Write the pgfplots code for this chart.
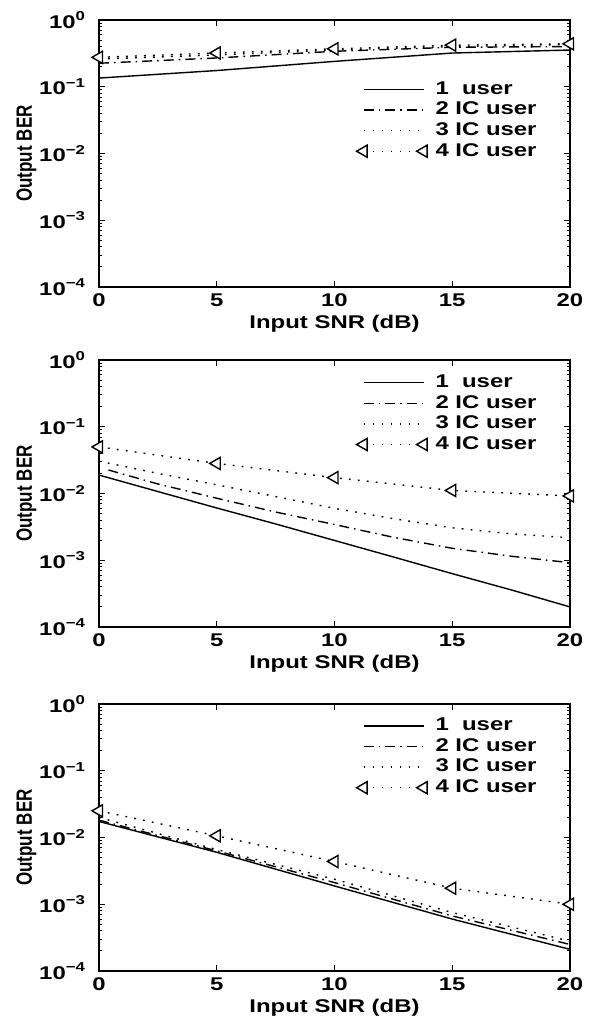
\documentclass[border=0pt]{standalone}
\usepackage{fontspec}
\setmainfont{Liberation Sans}[FakeStretch=1.3]
\newfontfamily\yfont{Liberation Sans}
\usepackage{graphicx}
\usepackage{pgfplots}
\pgfplotsset{compat=1.18}
\newcommand\ff{\fontsize{9.2}{10}\selectfont\bfseries}
\pgfplotsset{
 ber/.style={
  scale only axis, width=235.5pt, height=133.5pt,
  xmin=0, xmax=20, ymin=1e-4, ymax=1,
  xtick={0,5,10,15,20}, xticklabels={0,5,10,15,20},
  ytick={1e-4,1e-3,1e-2,1e-1,1},
  yticklabels={10\textsuperscript{−4},10\textsuperscript{−3},10\textsuperscript{−2},10\textsuperscript{−1},10\textsuperscript{0}},
  xticklabel style={font=\ff},
  yticklabel style={font=\ff, xshift=-3pt},
  xlabel={Input SNR (dB)}, xlabel style={font=\ff, yshift=3pt},
  ylabel={\scalebox{1}[1.3]{\yfont\fontsize{8.5}{10}\selectfont\bfseries Output BER}},
  ylabel style={at={(axis description cs:-0.154,0.5)}, anchor=center},
  axis line style={line width=0.9pt},
  major tick length=3pt, minor tick length=1.6pt,
  every tick/.style={black, line width=0.5pt},
  legend style={draw=none, fill=none, font=\ff, anchor=north east, inner sep=0pt,
    nodes={inner sep=1.2pt}, column sep=3pt, cells={anchor=west}},
  legend image code/.code={\draw[##1] plot coordinates {(0pt,0pt) (30pt,0pt)};},
 },
 s1/.style={black, line width=0.7pt, solid, mark=none},
 s2/.style={black, line width=0.7pt, dash pattern=on 5pt off 2.5pt on 0.8pt off 2.5pt, mark=none},
 s3/.style={black, line width=0.7pt, dash pattern=on 0.9pt off 3.6pt, mark=none},
 s4/.style={black, line width=0.7pt, dash pattern=on 0.9pt off 3.6pt, mark=triangle*, mark size=3.5pt,
   mark options={solid, rotate=90, fill=white, draw=black, line width=0.7pt}},
}
\begin{document}
\begin{tikzpicture}
% Panel 1
\begin{semilogyaxis}[ber, at={(0,0)}, anchor=north west,
  legend style={at={(axis description cs:0.935,0.78)}}]
\addplot[s1] coordinates {(0,0.135) (5,0.175) (10,0.24) (15,0.32) (20,0.355)};
\addplot[s2] coordinates {(0,0.225) (5,0.27) (10,0.34) (15,0.39) (20,0.40)};
\addplot[s3] coordinates {(0,0.26) (5,0.30) (10,0.355) (15,0.40) (20,0.43)};
\addplot[s4] coordinates {(0,0.276) (5,0.32) (10,0.37) (15,0.42) (20,0.44)};
\legend{1\ \ user, 2 IC user, 3 IC user, 4 IC user}
\end{semilogyaxis}
% Panel 2
\begin{semilogyaxis}[ber, at={(0,-170pt)}, anchor=north west,
  legend style={at={(axis description cs:0.935,0.955)}}]
\addplot[s1] coordinates {(0,0.0189) (2.5,0.0107) (5,0.00607) (7.5,0.0035) (10,0.00198) (12.5,0.00112) (15,0.00063) (17.5,0.00036) (20,0.0002)};
\addplot[s2] coordinates {(0.4,0.0225) (2.5,0.0139) (5,0.0085) (7.5,0.00528) (10,0.00343) (12.5,0.00221) (15,0.00151) (17.5,0.00115) (20,0.00092)};
\addplot[s3] coordinates {(0,0.0305) (2.5,0.020) (5,0.0135) (7.5,0.009) (10,0.006) (12.5,0.0042) (15,0.00306) (17.5,0.00249) (20,0.00217)};
\addplot[s4] coordinates {(0,0.0499) (5,0.0282) (10,0.0173) (15,0.0111) (20,0.0092)};
\legend{1\ \ user, 2 IC user, 3 IC user, 4 IC user}
\end{semilogyaxis}
% Panel 3
\begin{semilogyaxis}[ber, at={(0,-342pt)}, anchor=north west,
  legend style={at={(axis description cs:0.935,0.958)}}]
\addplot[s1] coordinates {(0,0.0174) (5,0.006) (10,0.00188) (15,0.0006) (20,0.000211)};
\addplot[s2] coordinates {(0,0.0182) (5,0.0063) (10,0.00211) (15,0.000668) (20,0.00025)};
\addplot[s3] coordinates {(0,0.020) (5,0.0066) (10,0.00237) (15,0.00075) (20,0.00028)};
\addplot[s4] coordinates {(0,0.0251) (5,0.0106) (10,0.00437) (15,0.00174) (20,0.001)};
\legend{1\ \ user, 2 IC user, 3 IC user, 4 IC user}
\end{semilogyaxis}
\pgfresetboundingbox
\path (-49.5pt,10pt) rectangle (247pt,-499pt);
\end{tikzpicture}
\end{document}
